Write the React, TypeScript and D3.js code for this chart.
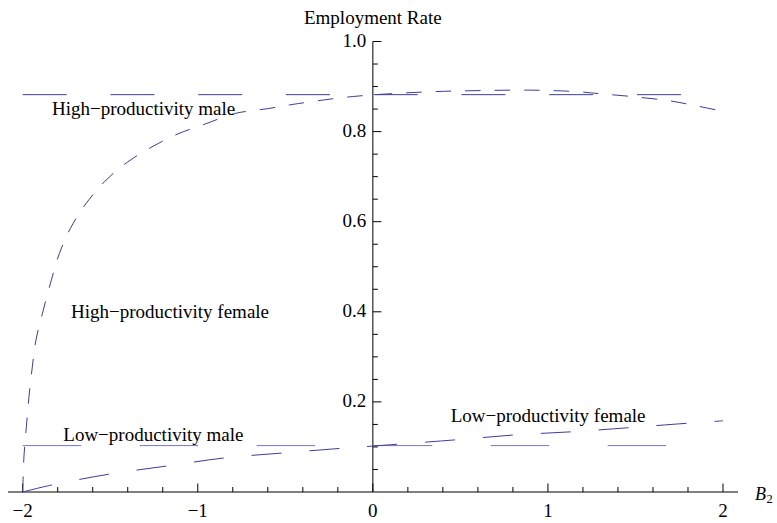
import React from "react";
import * as d3 from "d3";

const W = 777;
const H = 523;

const xTicksMajor = [-2, -1, 0, 1, 2];
const xTickLabels = ["\u22122", "\u22121", "0", "1", "2"];
const yTicksMajor = [0.2, 0.4, 0.6, 0.8, 1.0];
const yTickLabels = ["0.2", "0.4", "0.6", "0.8", "1.0"];

const hpMaleX = [-2, 2];
const hpMaleY = [0.882, 0.882];

const lpMaleX = [-2, 2];
const lpMaleY = [0.103, 0.103];

const hpFemaleX = [-2, -1.993, -1.979, -1.964, -1.945, -1.924, -1.885, -1.836, -1.791, -1.728, -1.637, -1.53, -1.403, -1.262, -1.113, -0.963, -0.79, -0.6, -0.43, -0.11, 0.3, 0.6, 0.9, 1.15, 1.3, 1.5, 1.7, 1.85, 2];
const hpFemaleY = [0, 0.078, 0.145, 0.212, 0.278, 0.338, 0.4, 0.471, 0.529, 0.585, 0.641, 0.69, 0.732, 0.766, 0.795, 0.816, 0.84, 0.851, 0.862, 0.878, 0.888, 0.891, 0.892, 0.889, 0.884, 0.877, 0.868, 0.857, 0.845];

const lpFemaleX = [-2, -1.83, -1.5, -1.17, -0.84, -0.5, -0.18, 0, 0.48, 0.82, 1.15, 1.47, 1.81, 2];
const lpFemaleY = [0, 0.016, 0.04, 0.058, 0.076, 0.087, 0.097, 0.102, 0.116, 0.127, 0.134, 0.143, 0.153, 0.158];

const seriesLabels = ["High\u2212productivity male", "High\u2212productivity female", "Low\u2212productivity male", "Low\u2212productivity female"];

const LINE = "#3d3d99";
const FONT = '"Liberation Serif"';

export default function App() {
  const x = d3.scaleLinear().domain([-2, 2]).range([22.7, 723]);
  const y = d3.scaleLinear().domain([0, 1]).range([492, 41.5]);

  const line = d3
    .line<[number, number]>()
    .x((d) => x(d[0]))
    .y((d) => y(d[1]))
    .curve(d3.curveCatmullRom.alpha(0.5));

  const zip = (a: number[], b: number[]) => a.map((v, i) => [v, b[i]] as [number, number]);

  const xMinor = d3.range(-2, 2.0001, 0.2).filter((v) => Math.abs(v - Math.round(v)) > 1e-6);
  const yMinor = d3.range(0.05, 1.0001, 0.05).filter((v) => Math.abs(v * 5 - Math.round(v * 5)) > 1e-6);

  const x0 = x(0);
  const y0 = y(0);
  const ts = { fontFamily: FONT, fontSize: 19 } as React.CSSProperties;

  return (
    <div style={{ position: "absolute", left: 0, top: 0 }}>
      <svg width={W} height={H} style={{ display: "block", background: "#fff" }}>
        {/* axes */}
        <line x1={8} x2={738} y1={y0} y2={y0} stroke="#000" strokeWidth={1} />
        <line x1={x0} x2={x0} y1={y0} y2={y(1)} stroke="#000" strokeWidth={1} />
        {xTicksMajor.map((t, i) => (
          <g key={"xt" + i}>
            <line x1={x(t)} x2={x(t)} y1={y0} y2={y0 - 8.5} stroke="#000" />
            <text x={x(t)} y={y0 + 25} style={ts} textAnchor="middle">
              {xTickLabels[i]}
            </text>
          </g>
        ))}
        {xMinor.map((t, i) => (
          <line key={"xm" + i} x1={x(t)} x2={x(t)} y1={y0} y2={y0 - 5} stroke="#000" />
        ))}
        {yTicksMajor.map((t, i) => (
          <g key={"yt" + i}>
            <line x1={x0} x2={x0 + 8.5} y1={y(t)} y2={y(t)} stroke="#000" />
            <text x={x0 - 6.5} y={y(t) + 5.5} style={ts} textAnchor="end">
              {yTickLabels[i]}
            </text>
          </g>
        ))}
        {yMinor.map((t, i) => (
          <line key={"ym" + i} x1={x0} x2={x0 + 5} y1={y(t)} y2={y(t)} stroke="#000" />
        ))}
        <text x={x0} y={24} style={ts} textAnchor="middle">
          Employment Rate
        </text>
        <text x={755} y={499.5} style={{ fontFamily: FONT, fontSize: 18, fontStyle: "italic" }}>
          B
          <tspan x={766.5} y={503} style={{ fontSize: 12.5, fontStyle: "normal" }}>2</tspan>
        </text>

        {/* series */}
        <path d={line(zip(hpMaleX, hpMaleY)) || ""} fill="none" stroke={LINE} strokeWidth={1} strokeDasharray="44,43.75" />
        <path d={line(zip(lpMaleX, lpMaleY)) || ""} fill="none" stroke={LINE} strokeWidth={1} strokeOpacity={0.7} strokeDasharray="58.5,58.5" />
        <path d={line(zip(hpFemaleX, hpFemaleY)) || ""} fill="none" stroke={LINE} strokeWidth={1} strokeDasharray="15.5,14" />
        <path d={line(zip(lpFemaleX, lpFemaleY)) || ""} fill="none" stroke={LINE} strokeWidth={1} strokeDasharray="30,28" />

        {/* labels */}
        <text x={52} y={115} style={ts}>{seriesLabels[0]}</text>
        <text x={71} y={318.3} style={ts}>{seriesLabels[1]}</text>
        <text x={63.3} y={440.7} style={ts}>{seriesLabels[2]}</text>
        <text x={450.7} y={421.7} style={ts}>{seriesLabels[3]}</text>
      </svg>
    </div>
  );
}
